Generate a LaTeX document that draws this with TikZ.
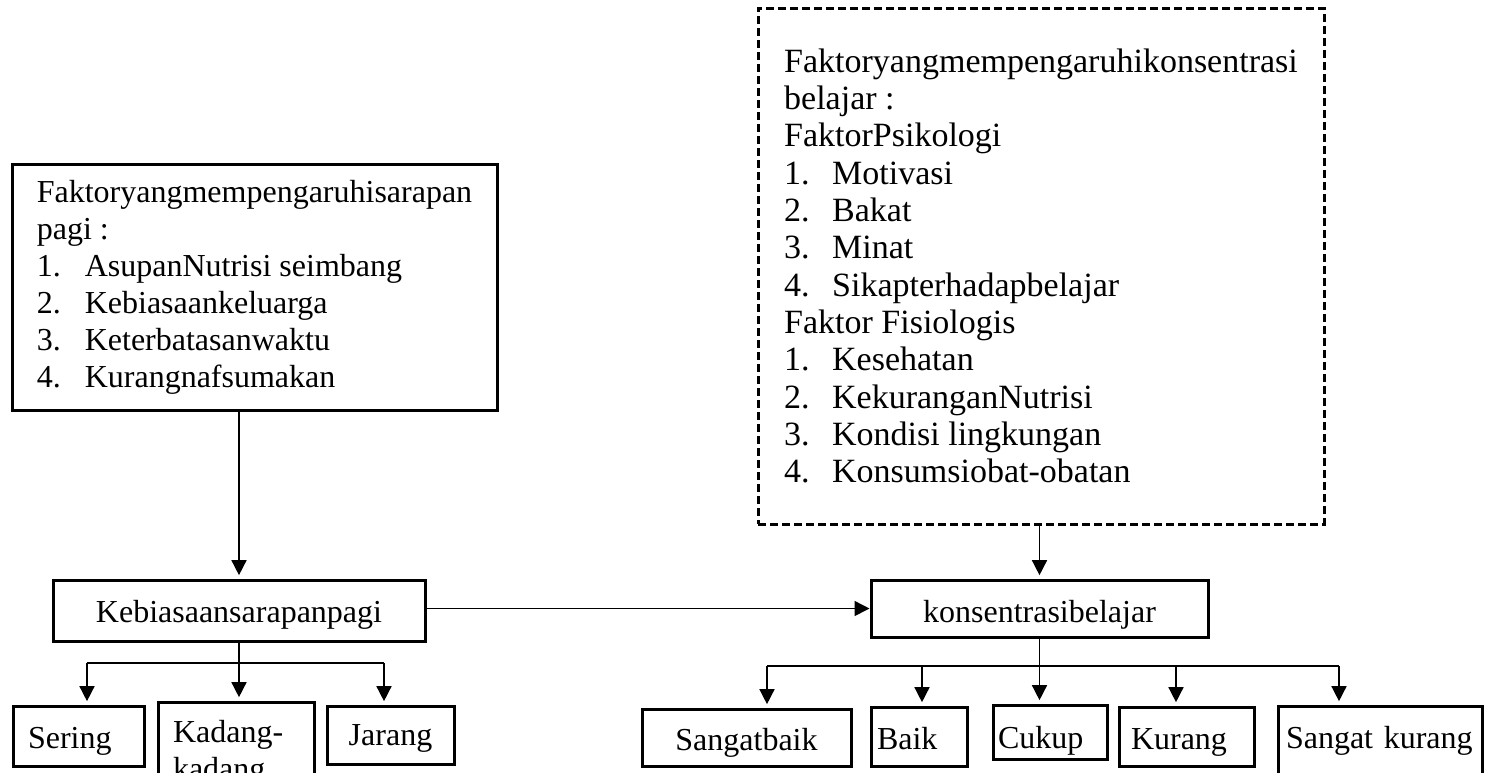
\documentclass[tikz,border=0pt]{standalone}
\usepackage{fontspec}
\setmainfont{Liberation Serif}
\usetikzlibrary{arrows.meta}

\newcommand{\butir}[2]{\makebox[14.4pt][l]{#1.}#2}

\begin{document}
\begin{tikzpicture}[x=0.3pt,y=-0.3pt,
 font=\fontsize{9.6}{11.1}\selectfont,
 kotak/.style={draw, line width=0.9pt, inner sep=0pt, align=center},
 pilihan/.style={kotak, align=left},
 garis/.style={line width=0.45pt},
 panah/.style={garis, -{Triangle[length=4.5pt,width=4.5pt]}, shorten >=1pt}]
 \useasboundingbox (0,0) rectangle (1486,772);
 \clip (0,0) rectangle (1486,772);

 % faktor-faktor
 \node[kotak, align=left, minimum width=145.5pt, minimum height=73.8pt] (sarapan) at (254.5,287)
 {Faktoryangmempengaruhisarapan\\pagi :\\\butir{1}{AsupanNutrisi seimbang}\\\butir{2}{Kebiasaankeluarga}\\\butir{3}{Keterbatasanwaktu}\\\butir{4}{Kurangnafsumakan}};
 \node[kotak, dash pattern=on 2.4pt off 1.2pt, align=left, minimum width=169.8pt, minimum height=154.8pt,
 font=\fontsize{10.2}{11.2}\selectfont] (konsfaktor) at (1041,266)
 {Faktoryangmempengaruhikonsentrasi\\belajar :\\FaktorPsikologi\\\butir{1}{Motivasi}\\\butir{2}{Bakat}\\\butir{3}{Minat}\\\butir{4}{Sikapterhadapbelajar}\\Faktor Fisiologis\\\butir{1}{Kesehatan}\\\butir{2}{KekuranganNutrisi}\\\butir{3}{Kondisi lingkungan}\\\butir{4}{Konsumsiobat-obatan}};

 % variabel
 \node[kotak, minimum width=111.6pt, text height=12.6pt, text depth=5.7pt] (kebiasaan) at (239,610.5) {Kebiasaansarapanpagi};
 \node[kotak, minimum width=101.1pt, text height=12.6pt, text depth=4.5pt] (konsentrasi) at (1039.5,608.5) {konsentrasibelajar};

 % kategori sarapan
 \node[pilihan, text width=30.3pt, inner xsep=4.5pt, text height=12.6pt, text depth=5.4pt] (sering) at (78.5,736) {Sering};
 \node[pilihan, text width=37.8pt, inner xsep=4.5pt, text height=12pt, text depth=18.6pt] (kadang) at (236,753) {Kadang-\\kadang};
 \node[kotak, minimum width=38.1pt, text height=11.7pt, text depth=5.7pt] (jarang) at (390.5,735) {Jarang};

 % kategori konsentrasi
 \node[kotak, minimum width=62.7pt, text height=12.3pt, text depth=4.8pt] (sangatbaik) at (746.5,737.5) {Sangatbaik};
 \node[pilihan, text width=25.2pt, inner xsep=1.8pt, text height=12.6pt, text depth=5.1pt] (baik) at (919,736.5) {Baik};
 \node[pilihan, text width=31.2pt, inner xsep=1.5pt, text height=12.9pt, text depth=3.3pt] (cukup) at (1050,732) {Cukup};
 \node[pilihan, text width=33.3pt, inner xsep=3.6pt, text height=12.6pt, text depth=5.1pt] (kurang) at (1186.5,736.5) {Kurang};
 \node[pilihan, text width=56.4pt, inner xsep=2.4pt, text height=12.6pt, text depth=15.6pt] (sangatkurang) at (1380,753) {Sangat kurang};

 \draw[panah] (kebiasaan.north |- sarapan.south) -- (kebiasaan.north);
 \draw[panah, shorten >=0pt] (kebiasaan.east |- konsentrasi.west) -- (konsentrasi.west);
 \draw[panah] (konsentrasi.north |- konsfaktor.south) -- (konsentrasi.north);

 % cabang kiri
 \coordinate (cabA) at (87,663);
 \coordinate (cabB) at (384,663);
 \draw[garis] (kebiasaan.south) -- (kebiasaan.south |- cabA);
 \draw[garis] (cabA) -- (cabB);
 \draw[panah] (cabA) -- (cabA |- sering.north);
 \draw[panah] (kebiasaan.south |- cabA) -- (kebiasaan.south |- kadang.north);
 \draw[panah] (cabB) -- (cabB |- jarang.north);

 % cabang kanan
 \coordinate (cabC) at (767,666);
 \coordinate (cabD) at (1339,666);
 \draw[garis] (konsentrasi.south) -- (konsentrasi.south |- cabC);
 \draw[garis] (cabC) -- (cabD);
 \foreach \x/\n in {767/sangatbaik, 922/baik, 1176/kurang, 1339/sangatkurang} {
 \coordinate (t\n) at (\x,666);
 \draw[panah] (t\n) -- (t\n |- \n.north);
 }
 \draw[panah] (konsentrasi.south |- cabC) -- (konsentrasi.south |- cukup.north);
\end{tikzpicture}
\end{document}
